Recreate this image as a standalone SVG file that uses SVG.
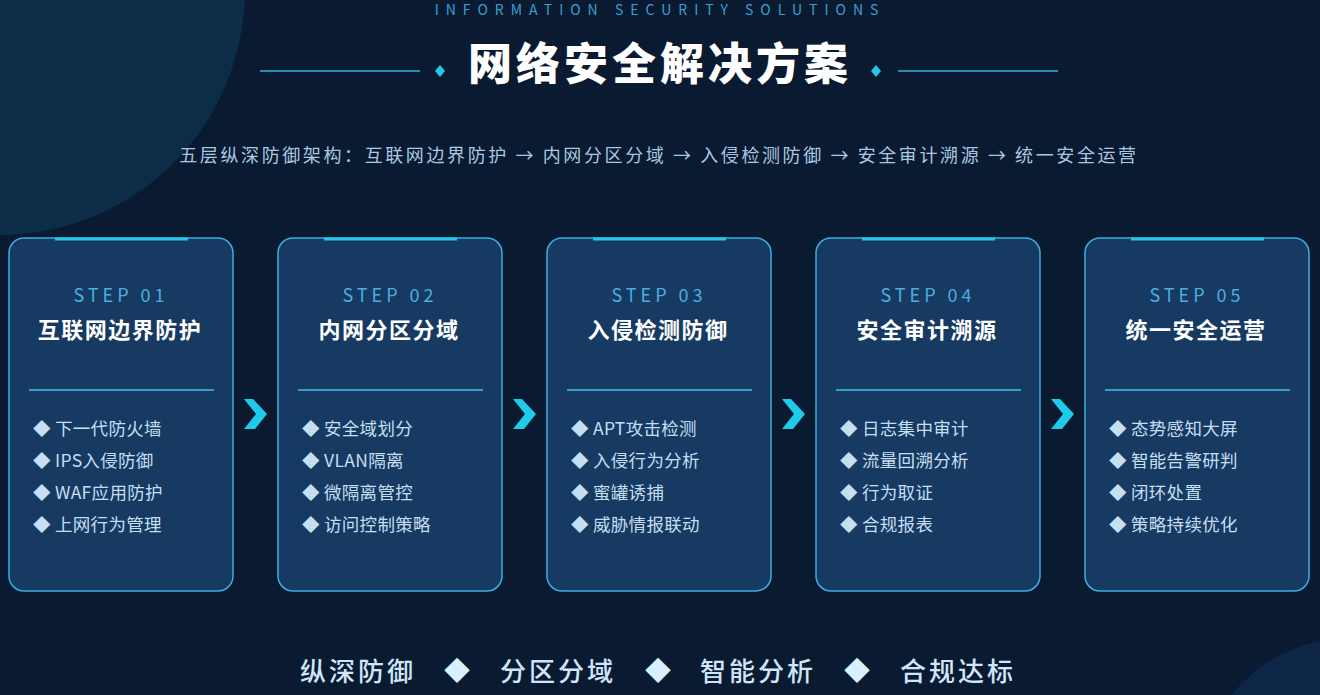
<svg xmlns="http://www.w3.org/2000/svg" width="1320" height="695" viewBox="0 0 1320 695">
<defs>
<style>
text{font-family:"Noto Sans CJK SC","Noto Sans",sans-serif;}
.card{fill:#173a62;stroke:#3aaee0;stroke-width:1.5;}
.bar{fill:#22c8e8;}
.step{fill:#4aaedf;font-size:18px;letter-spacing:4px;text-anchor:middle;}
.ttl{fill:#ffffff;font-size:22px;font-weight:700;letter-spacing:1.5px;text-anchor:middle;}
.div{stroke:#3a9ccc;stroke-width:2;}
.item{fill:#c6def2;font-size:17.5px;letter-spacing:0.3px;}
.chev{fill:#1ecbe8;}
.tag{fill:#cfe6f8;font-size:26px;font-weight:500;letter-spacing:3px;text-anchor:middle;}
.tagd{fill:#d8f0ff;font-size:26px;text-anchor:middle;}
</style>
</defs>
<rect width="1320" height="695" fill="#0a1a30"/>
<circle cx="0" cy="-10" r="245" fill="#0c2d48"/>
<circle cx="1350" cy="790" r="152" fill="#0d2648"/>

<g id="header">
<text x="660" y="15" fill="#3d9fd0" font-size="14" letter-spacing="7" text-anchor="middle">INFORMATION SECURITY SOLUTIONS</text>
<line x1="260" y1="71" x2="420" y2="71" stroke="#2a8ab4" stroke-width="2"/>
<polygon points="440,65 445,71 440,77 435,71" fill="#22c8e8"/>
<text x="660" y="80" fill="#ffffff" font-size="44" font-weight="900" letter-spacing="4" text-anchor="middle">网络安全解决方案</text>
<polygon points="876,65 881,71 876,77 871,71" fill="#22c8e8"/>
<line x1="898" y1="71" x2="1058" y2="71" stroke="#2a8ab4" stroke-width="2"/>
<text x="659" y="162" fill="#a9c9e2" font-size="18" letter-spacing="2.6" text-anchor="middle">五层纵深防御架构：互联网边界防护 → 内网分区分域 → 入侵检测防御 → 安全审计溯源 → 统一安全运营</text>
</g>

<g id="step1">
<rect class="card" x="9" y="238" width="224" height="353" rx="15"/>
<rect class="bar" x="55" y="237.5" width="133" height="3"/>
<text class="step" x="121" y="302">STEP 01</text>
<text class="ttl" x="120" y="338">互联网边界防护</text>
<line class="div" x1="29" y1="390" x2="214" y2="390"/>
<text class="item" x="33" y="435">◆ 下一代防火墙</text>
<text class="item" x="33" y="467">◆ IPS入侵防御</text>
<text class="item" x="33" y="499">◆ WAF应用防护</text>
<text class="item" x="33" y="531">◆ 上网行为管理</text>
</g>

<g id="step2">
<rect class="card" x="278" y="238" width="224" height="353" rx="15"/>
<rect class="bar" x="324" y="237.5" width="133" height="3"/>
<text class="step" x="390" y="302">STEP 02</text>
<text class="ttl" x="389" y="338">内网分区分域</text>
<line class="div" x1="298" y1="390" x2="483" y2="390"/>
<text class="item" x="302" y="435">◆ 安全域划分</text>
<text class="item" x="302" y="467">◆ VLAN隔离</text>
<text class="item" x="302" y="499">◆ 微隔离管控</text>
<text class="item" x="302" y="531">◆ 访问控制策略</text>
</g>

<g id="step3">
<rect class="card" x="547" y="238" width="224" height="353" rx="15"/>
<rect class="bar" x="593" y="237.5" width="133" height="3"/>
<text class="step" x="659" y="302">STEP 03</text>
<text class="ttl" x="658" y="338">入侵检测防御</text>
<line class="div" x1="567" y1="390" x2="752" y2="390"/>
<text class="item" x="571" y="435">◆ APT攻击检测</text>
<text class="item" x="571" y="467">◆ 入侵行为分析</text>
<text class="item" x="571" y="499">◆ 蜜罐诱捕</text>
<text class="item" x="571" y="531">◆ 威胁情报联动</text>
</g>

<g id="step4">
<rect class="card" x="816" y="238" width="224" height="353" rx="15"/>
<rect class="bar" x="862" y="237.5" width="133" height="3"/>
<text class="step" x="928" y="302">STEP 04</text>
<text class="ttl" x="927" y="338">安全审计溯源</text>
<line class="div" x1="836" y1="390" x2="1021" y2="390"/>
<text class="item" x="840" y="435">◆ 日志集中审计</text>
<text class="item" x="840" y="467">◆ 流量回溯分析</text>
<text class="item" x="840" y="499">◆ 行为取证</text>
<text class="item" x="840" y="531">◆ 合规报表</text>
</g>

<g id="step5">
<rect class="card" x="1085" y="238" width="224" height="353" rx="15"/>
<rect class="bar" x="1131" y="237.5" width="133" height="3"/>
<text class="step" x="1197" y="302">STEP 05</text>
<text class="ttl" x="1196" y="338">统一安全运营</text>
<line class="div" x1="1105" y1="390" x2="1290" y2="390"/>
<text class="item" x="1109" y="435">◆ 态势感知大屏</text>
<text class="item" x="1109" y="467">◆ 智能告警研判</text>
<text class="item" x="1109" y="499">◆ 闭环处置</text>
<text class="item" x="1109" y="531">◆ 策略持续优化</text>
</g>

<g id="connectors">
<polygon class="chev" points="244,399 253,399 267,414 255,429 244,429 256,414"/>
<polygon class="chev" points="513,399 522,399 536,414 524,429 513,429 525,414"/>
<polygon class="chev" points="782,399 791,399 805,414 793,429 782,429 794,414"/>
<polygon class="chev" points="1051,399 1060,399 1074,414 1062,429 1051,429 1063,414"/>
</g>

<g id="footer">
<text class="tag" x="358" y="681">纵深防御</text>
<text class="tagd" x="457" y="680">◆</text>
<text class="tag" x="558" y="681">分区分域</text>
<text class="tagd" x="658" y="680">◆</text>
<text class="tag" x="758" y="681">智能分析</text>
<text class="tagd" x="857" y="680">◆</text>
<text class="tag" x="958" y="681">合规达标</text>
</g>
</svg>
